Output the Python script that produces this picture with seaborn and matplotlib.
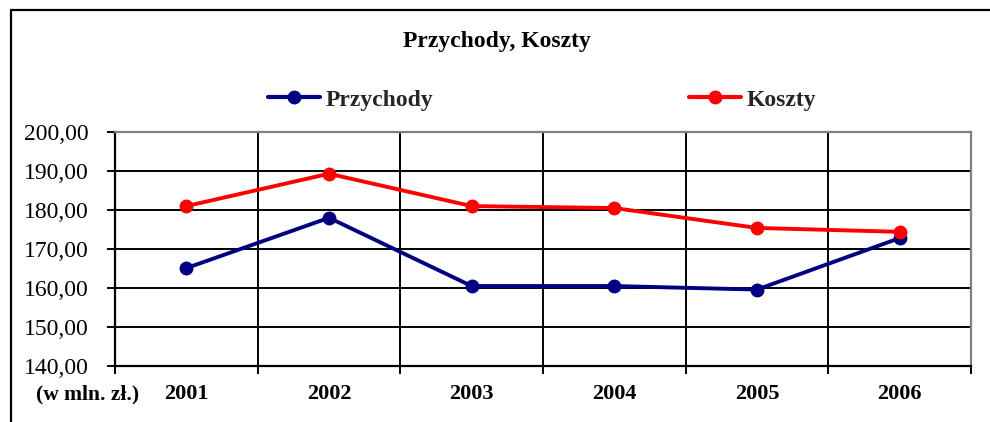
import matplotlib
matplotlib.use("Agg")
import matplotlib.pyplot as plt
import seaborn as sns
import pandas as pd
from matplotlib.patches import Rectangle
from matplotlib.ticker import FixedLocator, FuncFormatter

years = ["2001", "2002", "2003", "2004", "2005", "2006"]
przychody = [165.1, 178.0, 160.5, 160.5, 159.6, 172.8]
koszty = [181.0, 189.3, 181.0, 180.5, 175.4, 174.4]
series_names = ["Przychody", "Koszty"]
title = "Przychody, Koszty"
unit_label = "(w mln. zł.)"

df = pd.DataFrame({
    "rok": years * 2,
    "wartosc": przychody + koszty,
    "seria": [series_names[0]] * len(years) + [series_names[1]] * len(years),
})

sns.set_theme(style="white")
plt.rcParams["font.family"] = ["Liberation Serif", "DejaVu Serif"]

fig = plt.figure(figsize=(9.9, 4.22), dpi=100)
ax = fig.add_axes([115 / 990, 56 / 422, 856 / 990, 234 / 422])

palette = {"Przychody": "#000080", "Koszty": "#FF0000"}
sns.lineplot(data=df, x="rok", y="wartosc", hue="seria", palette=palette,
             marker="o", markersize=10, markeredgewidth=0, linewidth=2.8,
             ax=ax, legend=True, sort=False)

ax.set_xlim(-0.5, 5.5)
ax.set_ylim(140, 200)
ax.set_xlabel("")
ax.set_ylabel("")

# grid
ax.set_yticks(range(140, 201, 10))
ax.yaxis.set_major_formatter(FuncFormatter(lambda v, p: f"{v:.2f}".replace(".", ",")))
ax.xaxis.set_major_locator(FixedLocator(range(len(years))))
ax.set_xticklabels(years)
ax.xaxis.set_minor_locator(FixedLocator([i - 0.5 for i in range(len(years) + 1)]))
ax.grid(False)
ax.grid(True, axis="y", which="major", color="black", linewidth=1.4)
ax.grid(True, axis="x", which="minor", color="black", linewidth=1.4)
ax.set_axisbelow(True)

for s in ["top", "right"]:
    ax.spines[s].set_color("#808080")
    ax.spines[s].set_linewidth(1.6)
for s in ["left", "bottom"]:
    ax.spines[s].set_color("black")
    ax.spines[s].set_linewidth(1.6)

ax.tick_params(axis="x", which="major", length=0, pad=13, labelsize=16, colors="black")
ax.tick_params(axis="x", which="minor", length=6, width=1.4, color="black", direction="out", bottom=True)
ax.tick_params(axis="y", which="major", length=6, width=1.4, color="black", direction="out",
               left=True, labelsize=17, pad=13, colors="black")
for lbl in ax.get_xticklabels():
    lbl.set_fontweight("bold")

fig.text(88 / 990, 1 - 394 / 422, unit_label, ha="center", va="center",
         fontsize=15.5, fontweight="bold", color="black")

fig.text(497 / 990, 1 - 42 / 422, title, ha="center", va="center",
         fontsize=17, fontweight="bold", color="black")

handles, labels = ax.get_legend_handles_labels()
ax.get_legend().remove()
leg = fig.legend(handles, labels, loc="center", bbox_to_anchor=(542 / 990, 1 - 100 / 422),
                 ncol=2, frameon=False, handlelength=2.2, handletextpad=0.25,
                 columnspacing=10.8, prop={"family": "Liberation Serif", "weight": "bold", "size": 17})
for h in leg.legend_handles:
    h.set_linewidth(3)

fig.patches.append(Rectangle((11 / 990, -0.1), 1.2, (422 - 10) / 422 + 0.1,
                             transform=fig.transFigure, fill=False,
                             edgecolor="black", linewidth=1.6))

fig.savefig("out.png", dpi=100)
